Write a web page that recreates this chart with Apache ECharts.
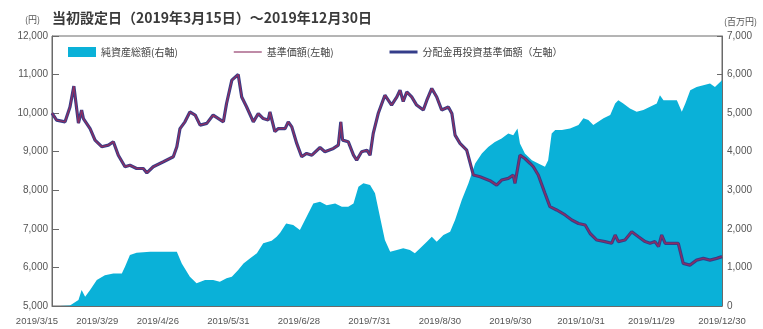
<!DOCTYPE html>
<html>
<head>
<meta charset="utf-8">
<script src="https://cdn.jsdelivr.net/npm/echarts@6/dist/echarts.min.js"></script>
<style>
  html, body { margin: 0; padding: 0; background: #ffffff; }
  #chart { width: 763px; height: 329px; }
</style>
</head>
<body>
<div id="chart"></div>
<script>
// Trading-day position of each tick (0 = inception 2019/3/15) and its label
const tickPos = [0, 10, 30, 50, 70, 90, 110, 130, 150, 170, 190];
const tickLabels = ['2019/3/15', '2019/3/29', '2019/4/26', '2019/5/31', '2019/6/28', '2019/7/31',
                    '2019/8/30', '2019/9/30', '2019/10/31', '2019/11/29', '2019/12/30'];

// 基準価額 (円) — trading-day position and value
const navX = [0,1.3,3.7,5.1,6.2,7.5,8.4,8.9,10.8,12.2,14.1,16.0,17.4,18.8,20.7,22.1,24.0,25.9,26.9,28.7,
  31.6,34.4,35.4,36.3,37.7,39.1,40.6,42.0,43.9,45.7,47.2,48.6,49.5,51.0,52.8,53.8,55.2,57.1,58.5,59.9,
  61.3,61.8,63.2,64.2,66.1,67.0,68.0,69.4,70.8,72.2,73.7,76.0,77.4,79.8,81.2,81.9,82.4,84.0,85.5,86.4,
  87.8,89.3,90.2,91.1,92.5,94.4,96.3,97.8,98.7,99.6,100.6,102.0,103.4,105.3,106.3,107.7,109.1,110.5,112.4,113.4,
  114.3,115.7,117.6,119.5,121.4,124.2,126.1,127.5,129.4,130.8,131.3,132.7,134.1,135.6,136.5,137.9,139.8,141.2,143.1,145.5,
  147.4,149.3,151.2,152.6,154.5,156.8,158.7,159.7,160.6,162.5,164.4,166.3,168.2,169.6,171.0,172.0,172.9,173.9,175.8,177.6,
  179.0,180.9,182.8,184.7,186.6,188.5,190];
const navValues = [10000,9820,9775,10160,10700,9740,10080,9860,9600,9300,9130,9170,9260,8910,8610,8650,8565,8565,8450,8610,
  8740,8870,9130,9600,9775,10030,9950,9690,9735,9950,9860,9775,10250,10855,11000,10420,10160,9775,9990,9860,
  9820,10030,9520,9600,9600,9775,9645,9215,8870,8955,8910,9110,9000,9085,9170,9775,9300,9260,8910,8780,
  9000,9040,8910,9475,9990,10465,10210,10420,10595,10300,10550,10420,10210,10080,10335,10640,10420,10080,10160,9990,
  9430,9215,9040,8395,8350,8250,8135,8265,8310,8395,8180,8910,8825,8695,8610,8395,7920,7575,7490,7360,
  7230,7140,7100,6880,6710,6670,6625,6840,6670,6710,6925,6795,6670,6625,6670,6540,6840,6625,6625,6625,
  6105,6060,6190,6235,6190,6235,6280];

// 純資産総額 (百万円) — trading-day position and value
const assetX = [0,2.3,5.1,7.5,8.4,9.4,10.8,12.7,15.0,17.4,19.8,20.7,22.1,24.0,27.8,31.6,35.4,36.8,39.1,41.0,
  43.4,45.7,47.6,49.5,51.0,52.8,54.3,56.2,58.1,59.9,62.3,63.7,64.7,66.4,68.4,70.3,72.2,74.1,76.0,77.9,
  80.3,82.2,84.0,85.5,86.9,88.3,90.2,91.6,93.0,94.4,95.9,97.8,99.6,101.5,102.9,104.4,106.3,107.7,109.1,111.0,
  112.9,114.3,116.2,118.1,120.0,121.9,123.7,125.6,127.5,129.4,130.8,132.0,132.7,134.1,136.1,137.9,139.8,140.7,141.7,142.7,
  144.6,146.9,149.3,150.7,152.1,153.5,154.9,156.4,158.3,159.7,160.6,162.0,163.9,165.8,167.7,169.6,171.5,172.4,173.4,175.3,
  177.2,178.6,179.6,181.0,182.8,184.7,186.6,188.0,190];
const assetValues = [0,0,10,155,415,240,415,675,800,845,845,1020,1320,1380,1405,1405,1405,1105,760,590,
  675,675,630,720,760,935,1105,1235,1365,1625,1690,1795,1900,2140,2100,1970,2315,2660,2700,2615,
  2660,2575,2575,2660,3090,3180,3135,2920,2315,1710,1405,1450,1495,1450,1365,1495,1665,1795,1665,1840,
  1925,2230,2745,3180,3695,3955,4125,4255,4345,4475,4430,4605,4215,3955,3780,3695,3610,3780,4475,4560,
  4560,4605,4690,4865,4820,4690,4775,4865,4950,5250,5335,5250,5120,5035,5080,5165,5250,5465,5335,5335,
  5335,5035,5250,5595,5680,5725,5770,5680,5850];

const pairs = (xs, ys) => xs.map((x, i) => [x, ys[i]]);
const navData = pairs(navX, navValues);
const assetData = pairs(assetX, assetValues);

const FONT = '"Noto Sans CJK JP", "Noto Sans", sans-serif';
const NUM_FONT = '"Liberation Sans Narrow", "Liberation Sans", sans-serif';
const AXIS = '#6a6a6a';
const TXT = '#555555';
const CYAN = '#0ab1d8';
const NAVY = '#343d8a';
const MAROON = '#8c2f62';

// Legend keys: bars spanning a 30x10 box (leading moves fix the box size)
const thinKey = 'path://M0,0M30,10M0,4.4L30,4.4L30,5.6L0,5.6Z';
const thickKey = 'path://M0,0M30,10M0,3.4L30,3.4L30,6.6L0,6.6Z';

const chart = echarts.init(document.getElementById('chart'), null, { renderer: 'canvas' });

chart.setOption({
  backgroundColor: '#ffffff',
  animation: false,
  title: {
    text: '当初設定日（2019年3月15日）～2019年12月30日',
    left: 47, top: 6,
    textStyle: { fontFamily: FONT, fontSize: 14, fontWeight: 'bold', color: '#3a3a3a' }
  },
  legend: {
    left: 63, top: 42,
    itemGap: 56,
    itemWidth: 28, itemHeight: 10,
    textStyle: { fontFamily: FONT, fontSize: 10, color: '#444' },
    data: [
      { name: '純資産総額(右軸)', icon: 'rect', itemStyle: { color: CYAN } },
      { name: '基準価額(左軸)', icon: thinKey, itemStyle: { color: MAROON } },
      { name: '分配金再投資基準価額（左軸）', icon: thickKey, itemStyle: { color: NAVY } }
    ]
  },
  grid: {
    left: 52, right: 41, top: 36, bottom: 23,
    show: true, borderColor: AXIS, borderWidth: 1, backgroundColor: 'transparent'
  },
  xAxis: {
    type: 'value', min: 0, max: 190,
    axisLine: { show: true, lineStyle: { color: AXIS, width: 1 } },
    axisTick: { show: true, inside: true, length: 7, customValues: tickPos, lineStyle: { color: AXIS } },
    splitLine: { show: false },
    axisLabel: {
      customValues: tickPos,
      margin: 10,
      fontFamily: NUM_FONT, fontSize: 9.5, color: TXT,
      formatter: function (v) {
        const i = tickPos.indexOf(v);
        const s = i >= 0 ? tickLabels[i] : '';
        if (i === 0) return '{first|' + s + '}';
        if (i === 1) return '{second|' + s + '}';
        return s;
      },
      rich: {
        first: { fontFamily: NUM_FONT, fontSize: 9.5, color: TXT, padding: [0, 30, 0, 0] },
        second: { fontFamily: NUM_FONT, fontSize: 9.5, color: TXT, padding: [0, 0, 0, 20] }
      }
    }
  },
  yAxis: [
    {
      type: 'value', min: 5000, max: 12000, interval: 1000, position: 'left',
      name: '(円)', nameLocation: 'end', nameGap: 12,
      nameTextStyle: { fontFamily: FONT, fontSize: 9, color: TXT, align: 'right', padding: [0, 12, 0, 0] },
      axisLine: { show: true, lineStyle: { color: AXIS } },
      axisTick: { show: true, inside: true, length: 7, lineStyle: { color: AXIS } },
      splitLine: { show: false },
      axisLabel: {
        margin: 4, fontFamily: NUM_FONT, fontSize: 10, color: TXT,
        formatter: v => v.toLocaleString('en-US')
      }
    },
    {
      type: 'value', min: 0, max: 7000, interval: 1000, position: 'right',
      name: '(百万円)', nameLocation: 'end', nameGap: 10,
      nameTextStyle: { fontFamily: FONT, fontSize: 9, color: TXT, align: 'left', padding: [0, 0, 0, 2] },
      axisLine: { show: true, lineStyle: { color: AXIS } },
      axisTick: { show: true, inside: true, length: 5, lineStyle: { color: AXIS } },
      splitLine: { show: false },
      axisLabel: {
        margin: 5, fontFamily: NUM_FONT, fontSize: 10, color: TXT,
        formatter: v => v.toLocaleString('en-US')
      }
    }
  ],
  series: [
    {
      name: '純資産総額(右軸)', type: 'line', yAxisIndex: 1,
      data: assetData, showSymbol: false, symbol: 'none',
      itemStyle: { color: CYAN },
      lineStyle: { width: 0, color: CYAN },
      areaStyle: { color: CYAN, opacity: 1 },
      z: 1
    },
    {
      name: '分配金再投資基準価額（左軸）', type: 'line', yAxisIndex: 0,
      data: navData, showSymbol: false, symbol: 'none',
      itemStyle: { color: NAVY },
      lineStyle: { width: 3.2, color: NAVY },
      z: 2
    },
    {
      name: '基準価額(左軸)', type: 'line', yAxisIndex: 0,
      data: navData, showSymbol: false, symbol: 'none',
      itemStyle: { color: MAROON },
      lineStyle: { width: 1.4, color: MAROON },
      z: 3
    }
  ]
});
</script>
</body>
</html>
